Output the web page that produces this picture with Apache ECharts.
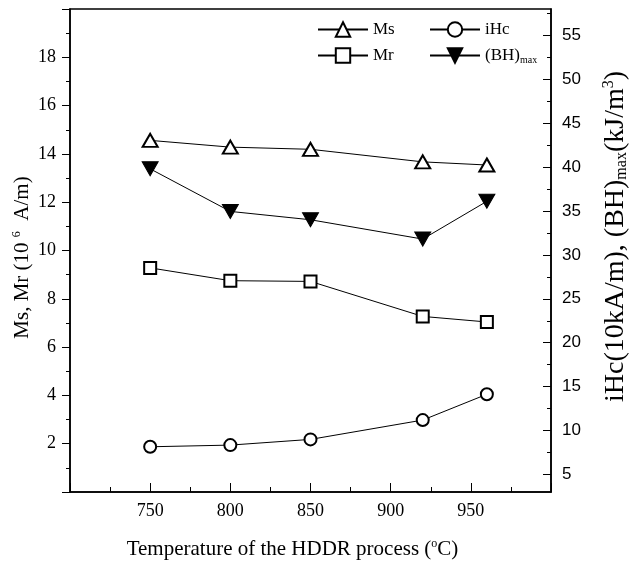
<!DOCTYPE html>
<html>
<head>
<meta charset="utf-8">
<script src="https://cdn.jsdelivr.net/npm/echarts@6/dist/echarts.min.js"></script>
<style>
  html, body { margin: 0; padding: 0; background: #fff; }
  #chart { width: 638px; height: 566px; }
</style>
</head>
<body>
<div id="chart"></div>
<script>
// HDDR temperature (°C)
const temps = [750, 800, 850, 920, 960];
// left axis, 10^6 A/m
const ms = [14.56, 14.28, 14.19, 13.67, 13.54];
const mr = [9.28, 8.75, 8.72, 7.27, 7.04];
// right axis, iHc in 10 kA/m and (BH)max in kJ/m3
const ihc = [8.15, 8.34, 8.99, 11.19, 14.13];
const bhmax = [39.8, 34.95, 34.0, 31.8, 36.1];

const rightMajor = [5, 10, 15, 20, 25, 30, 35, 40, 45, 50, 55];
const rightMinor = [7.5, 12.5, 17.5, 22.5, 27.5, 32.5, 37.5, 42.5, 47.5, 52.5, 57.5];

const serif = 'Liberation Serif';
const black = '#000';

function pairs(ys) {
  return temps.map((t, i) => [t, ys[i]]);
}

const chart = echarts.init(document.getElementById('chart'));

const openMark = { color: '#fff', borderColor: black, borderWidth: 2 };
const legendText = {
  fontFamily: serif, fontSize: 17, color: black,
  rich: { sub: { fontFamily: serif, fontSize: 10, color: black, padding: [9, 0, 0, 0] } }
};
const legendBase = {
  orient: 'vertical', top: 16, itemGap: 9, itemWidth: 50, itemHeight: 18, itemSymbolKeepAspect: true,
  textStyle: legendText,
  formatter: name => name === '(BH)max' ? '(BH){sub|max}' : name
};

chart.setOption({
  backgroundColor: '#fff',
  animation: false,
  grid: { left: 70, right: 84, top: 9, bottom: 74, show: true, borderColor: black, borderWidth: 1.5 },
  legend: [
    Object.assign({}, legendBase, { left: 312, data: ['Ms', 'Mr'] }),
    Object.assign({}, legendBase, { left: 424, data: ['iHc', '(BH)max'] })
  ],
  xAxis: {
    type: 'value', min: 700, max: 1000, interval: 50,
    name: 'Temperature of the HDDR process ({sup|o}C)',
    nameLocation: 'middle', nameGap: 46, nameMoveOverlap: false,
    nameTextStyle: {
      fontFamily: serif, fontSize: 21, color: black, padding: [0, 36, 0, 0],
      rich: { sup: { fontFamily: serif, fontSize: 12, color: black, padding: [0, 0, 10, 0] } }
    },
    axisLine: { lineStyle: { color: black, width: 1.5 } },
    axisTick: { inside: true, length: 9, lineStyle: { color: black } },
    minorTick: { show: true, splitNumber: 2, length: 5, lineStyle: { color: black } },
    axisLabel: {
      fontFamily: serif, fontSize: 18, color: black, margin: 10,
      formatter: v => (v > 700 && v < 1000) ? String(v) : ''
    },
    splitLine: { show: false }
  },
  yAxis: [
    {
      type: 'value', position: 'left', min: 0, max: 20, interval: 2,
      name: 'Ms, Mr (10 {sup|6}  A/m)',
      nameLocation: 'middle', nameRotate: 90, nameGap: 37, nameMoveOverlap: false,
      nameTextStyle: {
        fontFamily: serif, fontSize: 21, color: black, padding: [0, 14, 0, 0],
        rich: { sup: { fontFamily: serif, fontSize: 12, color: black, padding: [0, 0, 10, 0] } }
      },
      axisLine: { show: true, lineStyle: { color: black, width: 1.5 } },
      axisTick: { length: 8, lineStyle: { color: black } },
      minorTick: { show: true, splitNumber: 2, length: 4, lineStyle: { color: black } },
      axisLabel: {
        fontFamily: serif, fontSize: 18, color: black, margin: 14,
        formatter: v => (v > 0 && v < 20) ? String(v) : ''
      },
      splitLine: { show: false }
    },
    {
      type: 'value', position: 'right', min: 3, max: 58,
      name: 'iHc(10kA/m), (BH){sub|max}(kJ/m{sup|3})',
      nameLocation: 'middle', nameRotate: 90, nameGap: 50,
      nameTextStyle: {
        fontFamily: serif, fontSize: 28, color: black, padding: [0, 0, 0, 28],
        rich: {
          sub: { fontFamily: serif, fontSize: 16, color: black, padding: [12, 0, 0, 0] },
          sup: { fontFamily: serif, fontSize: 16, color: black, padding: [0, 0, 14, 0] }
        }
      },
      axisLine: { show: true, lineStyle: { color: black, width: 1.5 } },
      axisTick: { inside: true, length: 8, customValues: rightMajor, lineStyle: { color: black } },
      axisLabel: {
        customValues: rightMajor,
        fontFamily: 'Liberation Sans', fontSize: 17, color: black, margin: 11
      },
      splitLine: { show: false }
    },
    {
      type: 'value', position: 'right', min: 3, max: 58,
      axisLine: { show: false },
      axisTick: { show: true, inside: true, length: 4, customValues: rightMinor, lineStyle: { color: black } },
      axisLabel: { show: false },
      splitLine: { show: false }
    }
  ],
  series: [
    {
      name: 'Ms', type: 'line', yAxisIndex: 0, data: pairs(ms),
      symbol: 'triangle', symbolSize: [15, 13],
      itemStyle: openMark, lineStyle: { color: black, width: 1 }
    },
    {
      name: 'iHc', type: 'line', yAxisIndex: 1, data: pairs(ihc),
      symbol: 'circle', symbolSize: 12,
      itemStyle: openMark, lineStyle: { color: black, width: 1 }
    },
    {
      name: 'Mr', type: 'line', yAxisIndex: 0, data: pairs(mr),
      symbol: 'rect', symbolSize: 12,
      itemStyle: openMark, lineStyle: { color: black, width: 1 }
    },
    {
      name: '(BH)max', type: 'line', yAxisIndex: 1, data: pairs(bhmax),
      symbol: 'triangle', symbolRotate: 180, symbolSize: [16, 14],
      itemStyle: { color: black, borderColor: black, borderWidth: 1 },
      lineStyle: { color: black, width: 1 }
    }
  ]
});
</script>
</body>
</html>
